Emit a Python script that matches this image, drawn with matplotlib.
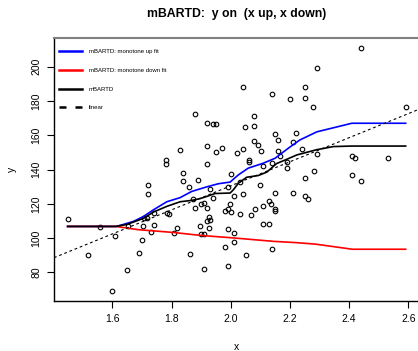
"""mBARTD fit of y on x, monotone up vs monotone down components."""
import matplotlib

matplotlib.use('Agg')
import matplotlib.pyplot as plt
from matplotlib.lines import Line2D

plt.rcParams['font.family'] = ['Liberation Sans', 'DejaVu Sans']

# observed data
x_obs = [
    1.449, 1.519, 1.559, 1.600, 1.609, 1.649, 1.652, 1.690, 1.699, 1.703,
    1.707, 1.716, 1.721, 1.721, 1.730, 1.740, 1.741, 1.780, 1.780, 1.784,
    1.793, 1.810, 1.820, 1.830, 1.840, 1.840, 1.860, 1.861, 1.872, 1.880,
    1.880, 1.890, 1.896, 1.900, 1.901, 1.910, 1.910, 1.910, 1.919, 1.919,
    1.920, 1.919, 1.920, 1.928, 1.930, 1.928, 1.929, 1.939, 1.949, 1.939,
    1.950, 1.971, 1.980, 1.981, 1.990, 1.992, 1.990, 1.990, 1.999, 2.000,
    2.001, 2.010, 2.010, 2.011, 2.020, 2.030, 2.030, 2.040, 2.041, 2.041,
    2.049, 2.051, 2.062, 2.062, 2.070, 2.080, 2.080, 2.080, 2.081, 2.091,
    2.099, 2.101, 2.110, 2.110, 2.110, 2.129, 2.135, 2.130, 2.140, 2.141,
    2.141, 2.150, 2.161, 2.150, 2.151, 2.151, 2.160, 2.168, 2.190, 2.190,
    2.200, 2.210, 2.211, 2.220, 2.240, 2.250, 2.250, 2.251, 2.251, 2.261,
    2.279, 2.280, 2.291, 2.291, 2.411, 2.421, 2.411, 2.441, 2.440, 2.530,
    2.591,
]
y_obs = [
    110.9, 90.3, 106.6, 69.0, 101.0, 81.2, 106.8, 91.5, 99.1, 107.2,
    111.7, 111.7, 131.1, 125.5, 103.7, 107.8, 114.6, 145.7, 143.3, 114.6,
    114.2, 103.0, 105.9, 151.5, 137.9, 133.4, 130.1, 90.9, 122.7, 172.4,
    117.3, 134.0, 106.8, 102.5, 119.9, 120.4, 102.5, 82.2, 167.2, 154.0,
    143.2, 117.7, 109.8, 112.3, 110.6, 106.0, 128.5, 166.4, 166.8, 123.4,
    150.1, 152.5, 94.6, 116.0, 129.8, 116.9, 105.5, 83.5, 120.0, 137.3,
    115.4, 103.0, 97.5, 124.7, 149.9, 132.7, 114.2, 125.9, 151.9, 188.0,
    164.9, 90.1, 145.7, 144.3, 113.5, 171.1, 165.6, 156.9, 116.9, 154.6,
    130.7, 151.1, 142.3, 119.0, 108.4, 121.4, 120.0, 108.4, 184.3, 93.4,
    144.1, 160.6, 157.3, 126.6, 117.0, 116.0, 150.8, 148.0, 144.3, 140.8,
    181.0, 126.3, 156.3, 161.2, 152.2, 188.4, 181.9, 135.0, 124.7, 123.0,
    176.5, 139.4, 199.4, 149.3, 147.8, 147.0, 136.7, 133.3, 211.1, 147.0,
    176.7,
]

# monotone up component
up_x = [1.449, 1.612, 1.630, 1.671, 1.705, 1.739, 1.784, 1.829, 1.868, 1.919,
        1.958, 1.998, 2.026, 2.059, 2.110, 2.150, 2.195, 2.234, 2.291, 2.409,
        2.591]
up_y = [106.8, 106.8, 107.6, 109.7, 112.6, 116.5, 121.2, 123.6, 127.2, 129.9,
        131.7, 132.7, 136.9, 140.8, 143.7, 146.6, 152.5, 157.3, 162.0, 167.0,
        167.0]

# monotone down component
down_x = [1.449, 1.612, 1.688, 1.806, 1.896, 2.009, 2.144, 2.217, 2.285,
          2.411, 2.591]
down_y = [106.8, 106.8, 104.9, 103.3, 101.6, 100.1, 98.1, 97.4, 96.5,
          93.5, 93.5]

# full mBARTD fit
bart_x = [1.449, 1.612, 1.650, 1.705, 1.739, 1.784, 1.829, 1.868, 1.896,
          1.919, 1.947, 1.998, 2.009, 2.026, 2.054, 2.093, 2.122, 2.155,
          2.183, 2.223, 2.291, 2.347, 2.409, 2.591]
bart_y = [106.8, 106.8, 108.0, 111.5, 115.2, 118.5, 121.2, 122.0, 123.0,
          124.3, 126.0, 126.3, 128.2, 132.1, 135.5, 136.5, 138.5, 143.5,
          145.5, 148.5, 151.6, 153.4, 153.7, 153.7]

# least squares line: intercept, slope
lin_coef = (-9.9, 70.2)

xlim = (1.403, 2.637)
ylim = (63.3, 216.8)

fig = plt.figure(figsize=(4.18, 3.51), dpi=100)
ax = fig.add_axes([54 / 418, 50 / 351, 365.3 / 418, 263.1 / 351])

ax.plot(x_obs, y_obs, 'o', mfc='none', mec='black', ms=3.3, mew=0.8,
        zorder=2)
ax.plot(up_x, up_y, color='blue', lw=1.2, zorder=3)
ax.plot(down_x, down_y, color='red', lw=1.2, zorder=3)
ax.plot(bart_x, bart_y, color='black', lw=1.2, zorder=4)
ax.plot(xlim, [lin_coef[0] + lin_coef[1] * v for v in xlim],
        color='black', lw=0.8, ls=(0, (2.5, 2.5)), zorder=3)

ax.set_xlim(*xlim)
ax.set_ylim(*ylim)
ax.set_xticks([1.6, 1.8, 2.0, 2.2, 2.4, 2.6])
ax.set_yticks([80, 100, 120, 140, 160, 180, 200])
ax.tick_params(labelsize=7.5, length=4.8, width=0.8, pad=4.5)
ax.tick_params(axis='y', labelrotation=90)
for lab in ax.get_yticklabels():
    lab.set_va('center')

for side in ('left', 'bottom'):
    ax.spines[side].set_linewidth(1.0)
ax.spines['right'].set_visible(False)
ax.spines['top'].set_color('#808080')
ax.spines['top'].set_linewidth(1.5)

ax.set_xlabel('x', fontsize=7.5)
ax.xaxis.set_label_coords(0.5, -0.174)
ax.xaxis.label.set_va('center')
ax.set_ylabel('y', fontsize=7.5)
ax.yaxis.set_label_coords(-0.114, 0.5)
ax.yaxis.label.set_va('center')

ax.set_title('mBARTD:  y on  (x up, x down)', fontsize=8.8,
             fontweight='bold', pad=15.0)

handles = [
    Line2D([], [], color='blue', lw=1.8),
    Line2D([], [], color='red', lw=1.8),
    Line2D([], [], color='black', lw=1.8),
    Line2D([], [], color='black', lw=1.8, ls=(0, (2.8, 3.6))),
]
labels = ['mBARTD: monotone up fit', 'mBARTD: monotone down fit',
          'mBARTD', 'linear']
ax.legend(handles, labels, loc='upper left', bbox_to_anchor=(0.0137, 0.957),
          frameon=False, fontsize=4.3, handlelength=3.93, handletextpad=1.05,
          labelspacing=2.25, borderpad=0, borderaxespad=0)

fig.savefig('out.png', dpi=100)
